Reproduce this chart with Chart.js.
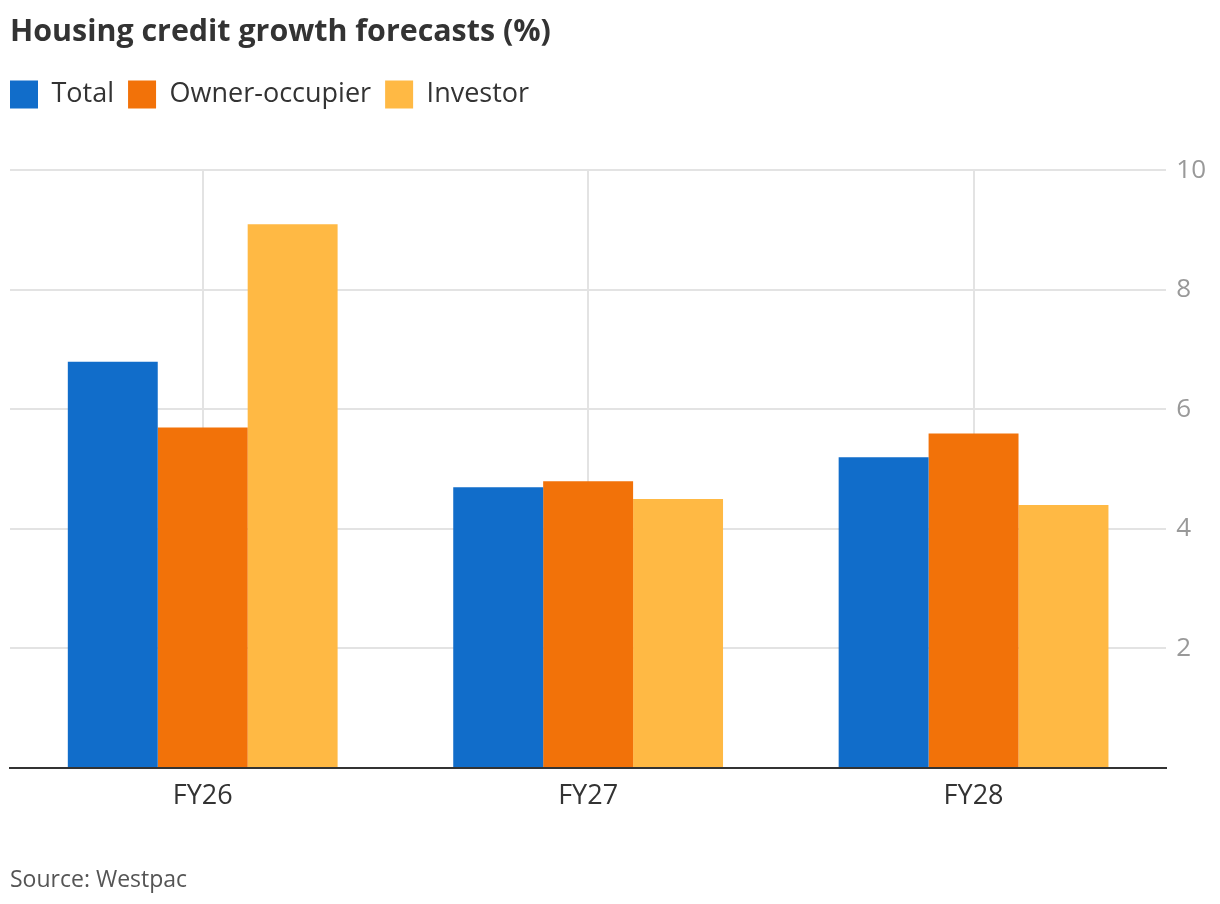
<!DOCTYPE html>
<html>
<head>
<meta charset="utf-8">
<script src="https://cdn.jsdelivr.net/npm/chart.js@4.4.1/dist/chart.umd.min.js"></script>
<style>
html,body{margin:0;padding:0;background:#fff;}
#wrap{position:relative;width:1220px;height:904px;}
</style>
</head>
<body>
<div id="wrap"><canvas id="c" width="1220" height="904"></canvas></div>
<script>
const categories = ["FY26", "FY27", "FY28"];
const totalValues = [6.8, 4.7, 5.2];
const ownerOccupierValues = [5.7, 4.8, 5.6];
const investorValues = [9.1, 4.5, 4.4];
const seriesNames = ["Total", "Owner-occupier", "Investor"];
const yTicks = [2, 4, 6, 8, 10];

const FONT = "'Open Sans', 'Noto Sans', sans-serif";
Chart.defaults.font.family = FONT;

const LEGEND_PAD = 14;
const legendSpacing = {
  id: 'legendSpacing',
  beforeLayout(chart) {
    const lg = chart.legend;
    if (lg && !lg._patched) {
      const orig = lg.fit;
      lg.fit = function () { orig.call(this); this.height += 52; };
      lg._patched = true;
    }
  },
  afterLayout(chart) {
    const lg = chart.legend;
    if (lg) { lg.left -= LEGEND_PAD; lg.right -= LEGEND_PAD; }
  }
};

new Chart(document.getElementById('c'), {
  type: 'bar',
  data: {
    labels: categories,
    datasets: [
      { label: seriesNames[0], data: totalValues, backgroundColor: '#116dca' },
      { label: seriesNames[1], data: ownerOccupierValues, backgroundColor: '#f27209' },
      { label: seriesNames[2], data: investorValues, backgroundColor: '#ffb944' }
    ]
  },
  plugins: [legendSpacing],
  options: {
    responsive: false,
    animation: false,
    devicePixelRatio: 1,
    layout: { padding: { left: 10, right: 4, top: 6, bottom: 10 } },
    datasets: { bar: { categoryPercentage: 0.7, barPercentage: 1.0, borderWidth: 0 } },
    plugins: {
      title: {
        display: true, text: 'Housing credit growth forecasts (%)', align: 'start',
        color: '#333333', font: { size: 30.4, weight: 'bold', family: FONT },
        padding: { top: 8, bottom: 16 }
      },
      legend: {
        display: true, align: 'start',
        labels: {
          boxWidth: 28, boxHeight: 28, color: '#333333', padding: LEGEND_PAD,
          font: { size: 27, family: FONT }
        }
      },
      subtitle: {
        display: true, text: 'Source: Westpac', position: 'bottom', align: 'start',
        color: '#555555', font: { size: 23, family: FONT },
        padding: { top: 42, bottom: 0 }
      },
      tooltip: { enabled: false }
    },
    scales: {
      x: {
        grid: { color: '#e3e3e3', lineWidth: 2, offset: false, drawTicks: false },
        border: { display: true, color: '#333333', width: 2 },
        ticks: { color: '#333333', font: { size: 27, family: FONT }, padding: 12 }
      },
      y: {
        position: 'right', min: 0, max: 10,
        afterBuildTicks: (axis) => { axis.ticks = [0].concat(yTicks).map(v => ({ value: v })); },
        grid: { color: '#e3e3e3', lineWidth: 2, drawTicks: false },
        border: { display: false },
        ticks: {
          color: '#999999', font: { size: 26, family: FONT }, padding: 10,
          callback: (v) => (v === 0 ? '' : String(v))
        }
      }
    }
  }
});
</script>
</body>
</html>
